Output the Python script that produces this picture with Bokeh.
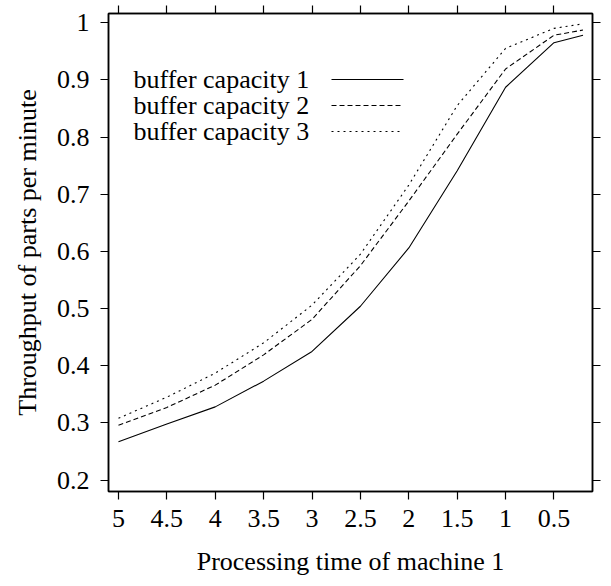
from bokeh.plotting import figure
from bokeh.models import Range1d, LinearAxis, FixedTicker, Label, Arrow, NumeralTickFormatter
from bokeh.embed import file_html
from bokeh.resources import INLINE

# data
proc_time = [5, 4.5, 4, 3.5, 3, 2.5, 2, 1.5, 1, 0.5, 0.2]
cap1 = [0.267, 0.298, 0.328, 0.373, 0.425, 0.504, 0.606, 0.741, 0.887, 0.965, 0.978]
cap2 = [0.296, 0.327, 0.366, 0.419, 0.481, 0.575, 0.688, 0.805, 0.919, 0.978, 0.987]
cap3 = [0.308, 0.345, 0.387, 0.440, 0.506, 0.595, 0.716, 0.855, 0.955, 0.990, 0.998]
series_names = ["buffer capacity 1", "buffer capacity 2", "buffer capacity 3"]
x_ticks = [5, 4.5, 4, 3.5, 3, 2.5, 2, 1.5, 1, 0.5]
y_ticks = [0.2, 0.3, 0.4, 0.5, 0.6, 0.7, 0.8, 0.9, 1.0]

FONT = "Liberation Serif"
FS = "26px"

p = figure(width=603, height=578,
           x_range=Range1d(5.103, 0.102), y_range=Range1d(0.18, 1.016),
           output_backend="svg", toolbar_location=None,
           min_border_left=108, min_border_right=11,
           min_border_top=13, min_border_bottom=84)
p.grid.visible = False
p.outline_line_color = "black"
p.outline_line_width = 1.5
p.background_fill_color = "white"
p.border_fill_color = "white"

p.add_layout(LinearAxis(), "above")
p.add_layout(LinearAxis(), "right")

for ax in p.xaxis:
    ax.ticker = FixedTicker(ticks=x_ticks)
for ax in p.yaxis:
    ax.ticker = FixedTicker(ticks=y_ticks)

for ax in p.axis:
    ax.formatter = NumeralTickFormatter(format="0.[0]")
    ax.major_tick_out = 8
    ax.major_tick_in = 0
    ax.minor_tick_line_color = None
    ax.axis_line_width = 1.5
    ax.axis_line_color = "black"
    ax.major_tick_line_color = "black"
    ax.major_tick_line_width = 1.2
    ax.major_label_text_font = FONT
    ax.major_label_text_font_size = FS
    ax.major_label_text_color = "black"
    ax.axis_label_text_font = FONT
    ax.axis_label_text_font_size = FS
    ax.axis_label_text_font_style = "normal"
    ax.axis_label_text_color = "black"

for ax in (p.above[0], p.right[0]):
    ax.major_label_text_font_size = "1px"
    ax.major_label_text_color = None
    ax.major_label_standoff = 0

p.below[0].axis_label = "Processing time of machine 1"
p.below[0].major_label_standoff = 10
p.below[0].axis_label_standoff = 17
p.left[0].axis_label = "Throughput of parts per minute"
p.left[0].major_label_standoff = 11
p.left[0].axis_label_standoff = 12

dashes = ["solid", "5 3", "2 4"]
series = [cap1, cap2, cap3]
for vals, d in zip(series, dashes):
    p.line(proc_time, vals, line_color="black", line_width=1.1, line_dash=d)

# legend (gnuplot style: text then sample); screen units relative to the frame
rows_y = [412, 386, 360]
for name, d, yy in zip(series_names, dashes, rows_y):
    p.add_layout(Label(x=25, y=yy, x_units="screen", y_units="screen", text=name,
                       text_font=FONT, text_font_size=FS, text_baseline="middle",
                       text_color="black"))
    p.add_layout(Arrow(x_start=223, y_start=yy, x_end=295, y_end=yy,
                       start_units="screen", end_units="screen", end=None,
                       line_color="black", line_width=1.1, line_dash=d))

open("out.html", "w").write(file_html(p, INLINE))
